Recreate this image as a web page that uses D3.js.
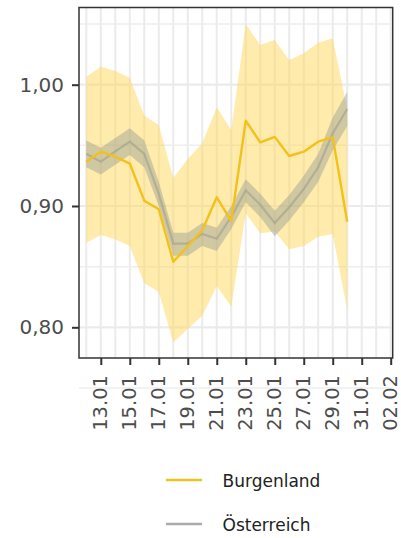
<!DOCTYPE html>
<html><head><meta charset="utf-8">
<script src="https://cdn.jsdelivr.net/npm/d3@7"></script>
<style>body{margin:0;background:#fff}svg{display:block}text{font-family:"DejaVu Sans",sans-serif}</style>
</head><body><svg id="c" width="401" height="538"></svg>
<script>
const dates = ["2021-01-12","2021-01-13","2021-01-14","2021-01-15","2021-01-16","2021-01-17","2021-01-18","2021-01-19","2021-01-20","2021-01-21","2021-01-22","2021-01-23","2021-01-24","2021-01-25","2021-01-26","2021-01-27","2021-01-28","2021-01-29","2021-01-30"];
const burgenland   = [0.9365,0.9448,0.9407,0.935,0.9044,0.8973,0.854,0.867,0.880,0.9072,0.8876,0.9703,0.9525,0.957,0.9412,0.9448,0.953,0.9566,0.887];
const burgenlandHi = [1.0066,1.0148,1.0113,1.0058,0.9744,0.9668,0.923,0.9387,0.9517,0.9814,0.9627,1.050,1.0327,1.0368,1.0204,1.0259,1.0346,1.0383,0.980];
const burgenlandLo = [0.8698,0.876,0.8725,0.867,0.8363,0.8294,0.7875,0.7986,0.8096,0.834,0.817,0.894,0.8775,0.879,0.8643,0.867,0.8747,0.877,0.8143];
const oesterreich   = [0.943,0.9365,0.945,0.953,0.943,0.910,0.869,0.869,0.877,0.873,0.891,0.913,0.901,0.886,0.899,0.914,0.932,0.960,0.980];
const oesterreichHi = [0.954,0.948,0.956,0.964,0.954,0.920,0.878,0.878,0.886,0.882,0.900,0.922,0.910,0.896,0.909,0.925,0.943,0.973,0.994];
const oesterreichLo = [0.932,0.926,0.934,0.942,0.932,0.900,0.859,0.859,0.867,0.863,0.881,0.903,0.891,0.875,0.888,0.903,0.920,0.946,0.966];
const yTicks = [0.80,0.90,1.00];
const yMinor = [0.75,0.85,0.95,1.05];
const xTickLabels = ["13.01","15.01","17.01","19.01","21.01","23.01","25.01","27.01","29.01","31.01","02.02"];
const seriesNames = ["Burgenland","Österreich"];

const svg = d3.select("#c");
const L=79, R=392.7, T=7.5, B=358;
const parse = d3.utcParse("%Y-%m-%d");
const ds = dates.map(parse);
const x = d3.scaleUtc()
  .domain([new Date(Date.UTC(2021,0,11,11,55)), new Date(Date.UTC(2021,1,2,3,18))])
  .range([L,R]);
const y = d3.scaleLinear().domain([0.77469,1.06364]).range([B,T]);

const grid = svg.append("g");
const days = d3.utcDay.range(new Date(Date.UTC(2021,0,12)), new Date(Date.UTC(2021,1,3)));
grid.selectAll("line.v").data(days).join("line")
  .attr("x1",d=>x(d)).attr("x2",d=>x(d)).attr("y1",T).attr("y2",B)
  .attr("stroke","#ebebeb").attr("stroke-width",2);
grid.selectAll("line.hm").data(yMinor).join("line")
  .attr("x1",L).attr("x2",R).attr("y1",d=>y(d)).attr("y2",d=>y(d))
  .attr("stroke","#eeeeee").attr("stroke-width",1.5);
grid.selectAll("line.h").data(yTicks).join("line")
  .attr("x1",L).attr("x2",R).attr("y1",d=>y(d)).attr("y2",d=>y(d))
  .attr("stroke","#ebebeb").attr("stroke-width",2.2);

const idx = d3.range(ds.length);
const area = (lo,hi)=>d3.area().x(i=>x(ds[i])).y0(i=>y(lo[i])).y1(i=>y(hi[i]))(idx);
const line = (v)=>d3.line().x(i=>x(ds[i])).y(i=>y(v[i]))(idx);

svg.append("path").attr("d",area(burgenlandLo,burgenlandHi)).attr("fill","#FFD54F").attr("fill-opacity",0.48);
svg.append("path").attr("d",area(oesterreichLo,oesterreichHi)).attr("fill","#7d8a8f").attr("fill-opacity",0.36);
svg.append("path").attr("d",line(oesterreich)).attr("fill","none").attr("stroke","#9a9a8a").attr("stroke-opacity",0.55).attr("stroke-width",2.2);
svg.append("path").attr("d",line(burgenland)).attr("fill","none").attr("stroke","#F2C11C").attr("stroke-width",2.4).attr("stroke-linejoin","round");

svg.append("rect").attr("x",L).attr("y",T).attr("width",R-L).attr("height",B-T)
  .attr("fill","none").attr("stroke","#333").attr("stroke-width",1.5);

const yAxis = d3.axisLeft(y).tickValues(yTicks).tickSize(7).tickPadding(8)
  .tickFormat(d=>d3.format(".2f")(d).replace(".",","));
const ga = svg.append("g").attr("transform",`translate(${L},0)`).call(yAxis);
ga.select(".domain").remove();
ga.selectAll(".tick line").attr("stroke","#333").attr("stroke-width",2);
ga.selectAll(".tick text").attr("font-size",20).attr("fill","#4d4d4d").attr("font-family","DejaVu Sans");

const xTickDates = xTickLabels.map(s=>{const [d,m]=s.split(".").map(Number);return new Date(Date.UTC(2021,m-1,d));});
const xAxis = d3.axisBottom(x).tickValues(xTickDates).tickSize(7).tickFormat((d,i)=>xTickLabels[i]);
const gx = svg.append("g").attr("transform",`translate(0,${B})`).call(xAxis);
gx.select(".domain").remove();
gx.selectAll(".tick line").attr("stroke","#333").attr("stroke-width",2);
gx.selectAll(".tick text").attr("font-size",19.5).attr("fill","#4d4d4d").attr("font-family","DejaVu Sans")
  .attr("transform","rotate(-90)").attr("text-anchor","end").attr("dy","0.3em").attr("x",-17).attr("y",0);

const leg = svg.append("g");
const legColors = ["#F2C11C","#aaaaaa"];
const legY = [480,524];
seriesNames.forEach((n,i)=>{
  leg.append("line").attr("x1",166).attr("x2",202).attr("y1",legY[i]).attr("y2",legY[i])
    .attr("stroke",legColors[i]).attr("stroke-width",2.5);
  leg.append("text").attr("x",222.5).attr("y",legY[i]+6.5).attr("font-size",17).attr("fill","#222").text(n);
});
</script></body></html>
